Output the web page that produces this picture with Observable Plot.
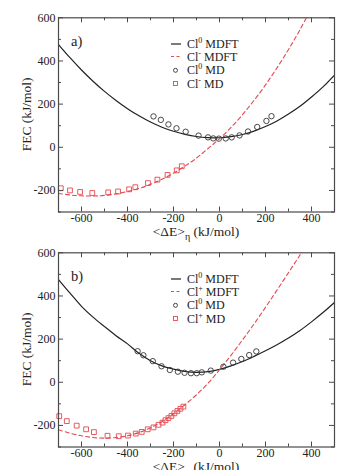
<!DOCTYPE html>
<html><head><meta charset="utf-8">
<script src="https://cdn.jsdelivr.net/npm/d3@7"></script>
<script src="https://cdn.jsdelivr.net/npm/@observablehq/plot@0.6"></script>
<style>
body{margin:0;background:#fff;}
#chart{width:351px;}
#chart svg{display:block;overflow:visible;}
</style></head><body><div id="chart"></div>
<script>
// ---- data ----
const etaBlack = [-700,-650,-600,-550,-500,-450,-400,-350,-300,-250,-200,-150,-100,-50,0,50,100,150,200,250,300,350,400,450,500];
const etaRed   = [-700,-650,-600,-550,-500,-450,-400,-350,-300,-250,-200,-150,-100,-50,0,50,100,150,200,250,300,350,400];

// panel a)
const aCl0MDFT = [476,415,358,306,259,217,179,146,117,93,74,60,50,45,44,49,59,75,96,122,154,190,233,280,335];
const aClmMDFT = [-214,-221,-225,-226,-223,-216,-205,-191,-172,-148,-120,-87,-50,-6,40,92,151,217,289,368,453,545,645];
const aCl0MDx  = [-287,-255,-222,-187,-147,-91,-50,-27,-3,27,53,87,124,164,204,226];
const aCl0MDy  = [143,127,106,88,72,54,46,41,40,41,46,55,73,94,122,144];
const aClmMDx  = [-690,-650,-606,-553,-484,-441,-393,-366,-311,-270,-226,-186,-164];
const aClmMDy  = [-190,-200,-207,-212,-209,-205,-195,-185,-166,-150,-128,-107,-88];

// panel b)
const bCl0MDFT = [476,413,352,302,258,216,178,134,100,76,61,50,46,49,60,76,96,120,146,174,205,240,280,323,370];
const bClpMDFT = [-220,-236,-248,-256,-259,-256,-248,-233,-211,-182,-146,-104,-58,-5,58,125,196,270,347,427,508,590,680];
const bCl0MDx  = [-356,-331,-290,-252,-216,-181,-152,-124,-99,-77,-38,17,59,95,129,160];
const bCl0MDy  = [144,125,98,74,57,49,44,42,42,46,54,72,91,108,126,143];
const bClpMDx  = [-697,-664,-621,-580,-546,-487,-438,-398,-364,-338,-312,-287,-265,-248,-235,-222,-209,-196,-183,-170,-157];
const bClpMDy  = [-157,-180,-201,-218,-231,-248,-250,-247,-238,-230,-218,-209,-197,-187,-176,-166,-156,-144,-133,-123,-113];

const xTicks = [-600,-400,-200,0,200,400];
const xMinor = [-700,-500,-300,-100,100,300,500];
const yTicks = [-200,0,200,400,600];
const yMinor = [-300,-100,100,300,500];

// ---- layout ----
const W = 351, H = 235, ML = 58, MR = 17, MT = 17.3, MB = 23.5;
const PW = W - ML - MR, PH = H - MT - MB;
const RED = "#e4484e", BLK = "#222", AX = "#4a4a4a";
const FONT = "Liberation Serif, Times New Roman, serif";

function zipXY(xs, ys){ return xs.map((x,i)=>({x, y: ys[i]})); }

function panel({tag, sign, curve0, curveI, md0, mdI}) {
  const svg = Plot.plot({
    width: W, height: H,
    marginLeft: ML, marginRight: MR, marginTop: MT, marginBottom: MB,
    x: {domain: [-700, 500]},
    y: {domain: [-300, 600]},
    style: {fontFamily: FONT, fontSize: "12px", color: "#222", background: "transparent", overflow: "visible"},
    marks: [
      Plot.line(curve0, {x: "x", y: "y", stroke: BLK, strokeWidth: 1.2, curve: "catmull-rom", clip: true}),
      Plot.line(curveI, {x: "x", y: "y", stroke: RED, strokeWidth: 1.1, strokeDasharray: "4,3", curve: "catmull-rom", clip: true}),
      Plot.dot(md0, {x: "x", y: "y", r: 2.7, stroke: "#333", strokeWidth: 0.9, fill: "none"}),
      Plot.dot(mdI, {x: "x", y: "y", r: 2.7, symbol: "square", stroke: RED, strokeWidth: 0.9, fill: "none"}),
      // inward ticks, all four sides
      Plot.tickX(xTicks, {x: d => d, insetTop: PH - 5, stroke: AX}),
      Plot.tickX(xTicks, {x: d => d, insetBottom: PH - 5, stroke: AX}),
      Plot.tickX(xMinor, {x: d => d, insetTop: PH - 3, stroke: AX}),
      Plot.tickX(xMinor, {x: d => d, insetBottom: PH - 3, stroke: AX}),
      Plot.tickY(yTicks, {y: d => d, insetRight: PW - 5, stroke: AX}),
      Plot.tickY(yTicks, {y: d => d, insetLeft: PW - 5, stroke: AX}),
      Plot.tickY(yMinor, {y: d => d, insetRight: PW - 3, stroke: AX}),
      Plot.tickY(yMinor, {y: d => d, insetLeft: PW - 3, stroke: AX}),
      Plot.axisX({ticks: xTicks, tickSize: 0, tickPadding: 1, label: null, tickFormat: d => String(d)}),
      Plot.axisY({ticks: yTicks, tickSize: 0, tickPadding: 3, label: null, tickFormat: d => String(d)}),
      Plot.frame({stroke: AX, strokeWidth: 1.2})
    ]
  });
  const s = d3.select(svg);
  const g = s.append("g").attr("font-family", FONT).attr("fill", "#222").attr("text-anchor", "start");
  // panel tag
  g.append("text").attr("x", 71).attr("y", MT + 28.7).attr("font-size", 14.5).attr("text-anchor", "start").text(tag);
  // y title
  g.append("text").attr("transform", `translate(26,${MT + PH/2}) rotate(-90)`)
    .attr("text-anchor", "middle").attr("dy", "0.35em").attr("font-size", 13.5).text("FEC (kJ/mol)");
  // x title
  const xt = g.append("text").attr("x", ML + PW/2).attr("y", MT + PH + 24)
    .attr("text-anchor", "middle").attr("font-size", 13.5);
  xt.append("tspan").text("<ΔE>");
  xt.append("tspan").attr("dy", 4).attr("font-size", 10).text("η");
  xt.append("tspan").attr("dy", -4).text(" (kJ/mol)");
  // legend
  const rows = [
    {sup: "0", name: "MDFT", kind: "solid"},
    {sup: sign, name: "MDFT", kind: "dash"},
    {sup: "0", name: "MD", kind: "circle"},
    {sup: sign, name: "MD", kind: "square"}
  ];
  const ry = [26.7, 39.2, 53, 66.2];
  const lg = g.append("g").attr("font-size", 12).attr("text-anchor", "start");
  rows.forEach((r, i) => {
    const y = MT + ry[i];
    if (r.kind === "solid") lg.append("line").attr("x1", 171).attr("x2", 181).attr("y1", y).attr("y2", y).attr("stroke", BLK).attr("stroke-width", 1.2);
    if (r.kind === "dash") lg.append("line").attr("x1", 171).attr("x2", 181).attr("y1", y).attr("y2", y).attr("stroke", RED).attr("stroke-width", 1.1).attr("stroke-dasharray", "3,2.5");
    if (r.kind === "circle") lg.append("circle").attr("cx", 175.5).attr("cy", y).attr("r", 2).attr("fill", "none").attr("stroke", "#333").attr("stroke-width", 0.9);
    if (r.kind === "square") lg.append("rect").attr("x", 173.5).attr("y", y - 2).attr("width", 4).attr("height", 4).attr("fill", "none").attr("stroke", RED).attr("stroke-width", 0.9);
    const t = lg.append("text").attr("x", 187).attr("y", y + 4).attr("text-anchor", "start");
    t.append("tspan").text("Cl");
    t.append("tspan").attr("dy", -5).attr("font-size", 8).text(r.sup);
    t.append("tspan").attr("dy", 5).text(" " + r.name);
  });
  return svg;
}

const root = document.getElementById("chart");
root.appendChild(panel({
  tag: "a)", sign: "-",
  curve0: zipXY(etaBlack, aCl0MDFT), curveI: zipXY(etaRed, aClmMDFT),
  md0: zipXY(aCl0MDx, aCl0MDy), mdI: zipXY(aClmMDx, aClmMDy)
}));
root.appendChild(panel({
  tag: "b)", sign: "+",
  curve0: zipXY(etaBlack, bCl0MDFT), curveI: zipXY(etaRed, bClpMDFT),
  md0: zipXY(bCl0MDx, bCl0MDy), mdI: zipXY(bClpMDx, bClpMDy)
}));
</script>
</body></html>
